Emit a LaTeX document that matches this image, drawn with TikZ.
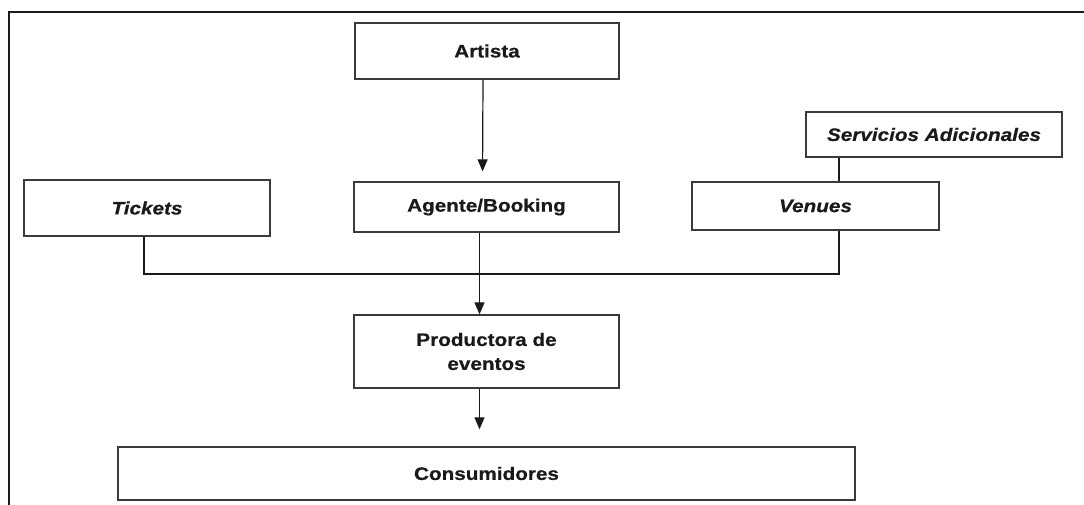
\documentclass[tikz,border=0pt]{standalone}
\usepackage{fontspec}
\setmainfont{Liberation Sans}[FakeStretch=1.15,BoldFeatures={FakeBold=0.6},BoldItalicFeatures={FakeBold=0.6}]
\usetikzlibrary{arrows.meta,calc}
\definecolor{ink}{HTML}{1A1A1A}
\definecolor{boxline}{HTML}{3A3A3A}
\begin{document}
\begin{tikzpicture}[x=1pt,y=-1pt,
  box/.style={draw=boxline,line width=1.3pt,rectangle,inner sep=0pt,align=center,
    text=ink,font=\fontsize{18}{24}\selectfont\bfseries},
  ibox/.style={box,font=\fontsize{18}{24}\selectfont\bfseries\itshape},
  conn/.style={draw=ink,line width=1.2pt},
  arr/.style={conn,-{Triangle[width=10pt,length=12pt]}}]
\useasboundingbox (0,0) rectangle (1084,505);
\fill[white] (0,0) rectangle (1084,505);
% outer frame (top and left edges visible)
\draw[ink,line width=2.2pt] (9,506) -- (9,12) -- (1085,12);
% boxes
\node[box,minimum width=264pt,minimum height=56pt] (artista) at (487,51) {Artista};
\node[box,minimum width=265pt,minimum height=50pt] (agente) at (486.5,207) {Agente/Booking};
\node[ibox,minimum width=246pt,minimum height=56pt] (tickets) at (147,208) {Tickets};
\node[ibox,minimum width=247pt,minimum height=48pt] (venues) at (815.5,206) {Venues};
\node[ibox,minimum width=256pt,minimum height=45pt] (serv) at (934,134.5) {Servicios Adicionales};
\node[box,minimum width=265pt,minimum height=73pt] (prod) at (486.5,351.5) {Productora de\\eventos};
\node[box,minimum width=737pt,minimum height=53pt] (cons) at (486.5,473.5) {Consumidores};
% junction
\coordinate (jv) at (839,274);
% connectors
\draw[arr,shorten >=10pt] ($(artista.south)+(-4,0)$) -- ($(agente.north)+(-4,0)$);
\draw[arr] ($(agente.south)+(-7,0)$) -- ($(prod.north)+(-7,0)$);
\draw[arr,shorten >=17pt] ($(prod.south)+(-7,0)$) -- ($(cons.north)+(-7,0)$);
\draw[conn] ($(tickets.south)+(-3,0)$) |- (jv) -- (jv |- venues.south);
\draw[conn] (jv |- venues.north) -- (jv |- serv.south);
\end{tikzpicture}
\end{document}
